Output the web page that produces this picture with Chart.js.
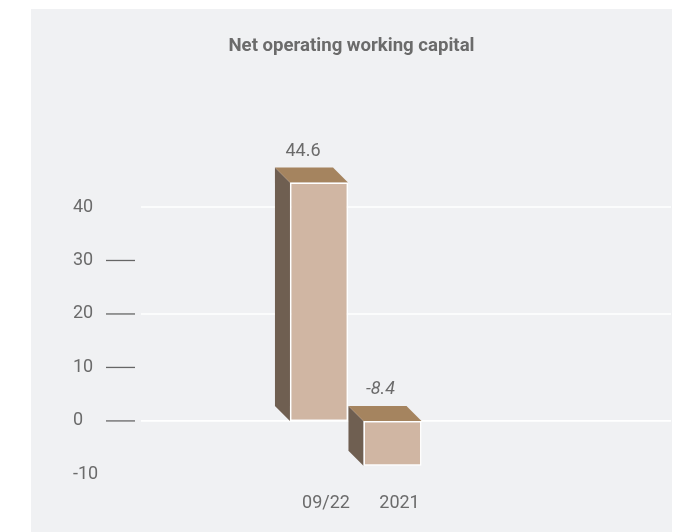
<!DOCTYPE html>
<html lang="en">
<head>
  <meta charset="UTF-8" />
  <title>Net operating working capital</title>
  <script src="https://cdn.jsdelivr.net/npm/chart.js"></script>
  <style>
    body { margin: 0; background: #fff; }
    .panel { position: absolute; left: 31px; top: 9px; width: 641px; height: 523px; background: #f0f1f3; }
  </style>
</head>
<body>
  <div class="panel"><canvas id="nowcChart" width="641" height="523"></canvas></div>

  <script>
    const periods = ['09/22', '2021'];
    const nowcValues = [44.6, -8.4];
    const yTickValues = [-10, 0, 10, 20, 30, 40];

    const textGray = '#6b6b6b';
    const depth = 15;

    // fake 3D: guide lines, then side + top faces behind each bar, then value labels
    const bar3d = {
      id: 'bar3d',
      beforeDatasetsDraw(chart) {
        const ctx = chart.ctx;
        const y = chart.scales.y;
        ctx.save();
        y.ticks.forEach(t => {
          const py = y.getPixelForValue(t.value);
          if (t.value >= 0 && t.value % 20 === 0) {
            ctx.strokeStyle = '#ffffff';
            ctx.lineWidth = 1.6;
            ctx.beginPath(); ctx.moveTo(110, py); ctx.lineTo(640, py); ctx.stroke();
          }
          if (t.value >= 0 && t.value < 40) {
            ctx.strokeStyle = '#666666';
            ctx.lineWidth = 1.3;
            ctx.beginPath(); ctx.moveTo(75, py); ctx.lineTo(104, py); ctx.stroke();
          }
        });
        chart.getDatasetMeta(0).data.forEach(bar => {
          const p = bar.getProps(['x', 'y', 'base', 'width'], true);
          const l = p.x - p.width / 2, r = p.x + p.width / 2;
          const top = Math.min(p.y, p.base), bot = Math.max(p.y, p.base);
          ctx.fillStyle = '#6f5f51';
          ctx.beginPath();
          ctx.moveTo(l, top); ctx.lineTo(l - depth, top - depth);
          ctx.lineTo(l - depth, bot - depth); ctx.lineTo(l, bot);
          ctx.closePath(); ctx.fill();
          ctx.fillStyle = '#a5845f';
          ctx.beginPath();
          ctx.moveTo(l, top); ctx.lineTo(l - depth, top - depth);
          ctx.lineTo(r - depth, top - depth); ctx.lineTo(r, top);
          ctx.closePath(); ctx.fill();
        });
        ctx.restore();
      },
      afterDatasetsDraw(chart) {
        const ctx = chart.ctx;
        const values = chart.data.datasets[0].data;
        ctx.save();
        ctx.fillStyle = textGray;
        ctx.textAlign = 'center';
        ctx.textBaseline = 'middle';
        chart.getDatasetMeta(0).data.forEach((bar, i) => {
          const p = bar.getProps(['x', 'y', 'base'], true);
          const top = Math.min(p.y, p.base);
          ctx.font = (values[i] < 0 ? 'italic ' : '') + '18px Roboto';
          const shift = values[i] < 0 ? 3 : -1;
          ctx.fillText(values[i].toFixed(1), p.x - depth + shift, top - depth - 16);
        });
        ctx.restore();
      }
    };

    new Chart(document.getElementById('nowcChart'), {
      type: 'bar',
      data: {
        labels: periods,
        datasets: [{
          data: nowcValues,
          backgroundColor: '#d0b6a3',
          borderColor: '#ffffff',
          borderWidth: 1.5,
          borderSkipped: false,
          barPercentage: 0.79,
          categoryPercentage: 1
        }]
      },
      options: {
        responsive: false,
        animation: false,
        layout: { padding: { left: 42, right: 42, top: 0, bottom: 0 } },
        plugins: {
          legend: { display: false },
          tooltip: { enabled: false },
          title: {
            display: true,
            text: 'Net operating working capital',
            color: textGray,
            font: { family: 'Roboto', size: 18.6, weight: 'bold' },
            padding: { top: 26, bottom: 106.9 }
          }
        },
        scales: {
          x: {
            grid: { display: false, drawTicks: false },
            border: { display: false },
            ticks: { color: textGray, font: { family: 'Roboto', size: 18 }, padding: 18, labelOffset: 7 }
          },
          y: {
            min: -10,
            max: 48,
            afterFit: s => { s.width = 209.25; },
            afterBuildTicks: s => { s.ticks = yTickValues.map(v => ({ value: v })); },
            grid: { display: false, drawTicks: false },
            border: { display: false },
            ticks: { color: textGray, font: { family: 'Roboto', size: 18 }, crossAlign: 'far' }
          },
          // empty spacer on the right keeps the two bars near the middle
          spacer: {
            type: 'linear',
            position: 'right',
            afterFit: s => { s.width = 200.75; },
            grid: { display: false, drawTicks: false },
            border: { display: false },
            ticks: { display: false }
          }
        }
      },
      plugins: [bar3d]
    });
  </script>
</body>
</html>
